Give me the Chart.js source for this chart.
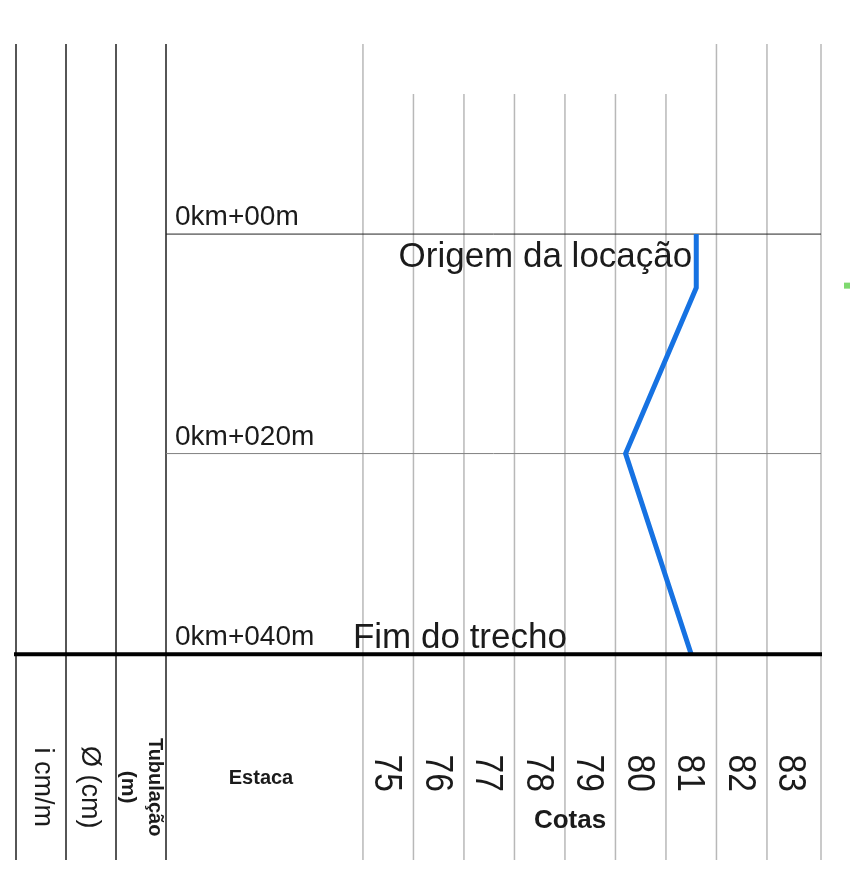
<!DOCTYPE html>
<html lang="pt-BR">
<head>
<meta charset="utf-8">
<title>Perfil - Cotas</title>
<script src="https://cdn.jsdelivr.net/npm/chart.js@4"></script>
<style>
  html, body { margin: 0; padding: 0; background: #fff; }
  canvas { display: block; }
</style>
</head>
<body>
<canvas id="perfil" width="850" height="885"></canvas>
<script>
"use strict";

// Cotas (eixo horizontal) e estacas (eixo vertical, distância em m)
const COTAS = [75, 76, 77, 78, 79, 80, 81, 82, 83];
const COTAS_ALTAS = [75, 82, 83];
const ESTACAS = ["0km+00m", "0km+020m", "0km+040m"];
const ESTACA_DIST = [0, 20.9, 40];
// Perfil do terreno
const PERFIL_DIST = [0, 5.1, 20.9, 40];
const PERFIL_COTA = [81.6, 81.6, 80.2, 81.5];
const COLUNAS = ["i cm/m", "Ø (cm)", ["Tubulação", "(m)"]];

const FONTE = '"Liberation Sans", Arial, sans-serif';
const AZUL = "#1672e2";

const perfilPlugin = {
  id: "perfil",
  beforeDatasetsDraw(chart) {
    const { ctx, chartArea: a, scales: { x, y } } = chart;
    ctx.save();
    // linhas das colunas da tabela à esquerda
    ctx.strokeStyle = "#1e1e1e";
    ctx.lineWidth = 1.5;
    for (let k = 0; k < 4; k++) {
      const px = a.left - 50 * k;
      ctx.beginPath(); ctx.moveTo(px, a.top); ctx.lineTo(px, a.bottom); ctx.stroke();
    }
    // grade vertical das cotas
    ctx.strokeStyle = "#b8b8b8";
    ctx.lineWidth = 1.5;
    COTAS.forEach((c) => {
      const px = x.getPixelForValue(c);
      const topo = COTAS_ALTAS.includes(c) ? a.top : a.top + 50;
      ctx.beginPath(); ctx.moveTo(px, topo); ctx.lineTo(px, a.bottom); ctx.stroke();
    });
    ctx.beginPath(); ctx.moveTo(a.right, a.top); ctx.lineTo(a.right, a.bottom); ctx.stroke();
    // linhas das estacas
    ESTACA_DIST.slice(0, -1).forEach((d, i) => {
      const py = y.getPixelForValue(d);
      ctx.strokeStyle = i === 0 ? "#222" : "#808080";
      ctx.lineWidth = 1;
      ctx.beginPath(); ctx.moveTo(a.left, py); ctx.lineTo(a.right, py); ctx.stroke();
    });
    ctx.restore();
  },
  afterDatasetsDraw(chart) {
    const { ctx, chartArea: a, scales: { x, y } } = chart;
    const base = y.getPixelForValue(ESTACA_DIST[ESTACA_DIST.length - 1]);
    ctx.save();
    // linha grossa de base
    ctx.strokeStyle = "#000";
    ctx.lineWidth = 4;
    ctx.beginPath(); ctx.moveTo(a.left - 152, base); ctx.lineTo(a.right + 1, base); ctx.stroke();

    ctx.fillStyle = "#1b1b1b";
    ctx.textBaseline = "alphabetic";
    ctx.textAlign = "left";
    ctx.font = "28px " + FONTE;
    ESTACAS.forEach((e, i) => {
      ctx.fillText(e, a.left + 9, y.getPixelForValue(ESTACA_DIST[i]) - 9);
    });

    ctx.font = "35px " + FONTE;
    ctx.textAlign = "right";
    ctx.fillText("Origem da locação", x.getPixelForValue(PERFIL_COTA[0]) - 4, y.getPixelForValue(ESTACA_DIST[0]) + 33);
    ctx.textAlign = "left";
    ctx.fillText("Fim do trecho", x.getPixelForValue(COTAS[0]) - 10, base - 6);

    // rótulos das cotas (girados)
    ctx.font = "39px " + FONTE;
    ctx.textAlign = "center";
    ctx.textBaseline = "middle";
    COTAS.forEach((c) => {
      ctx.save();
      ctx.translate(x.getPixelForValue(c) + 23, base + 119);
      ctx.rotate(Math.PI / 2);
      ctx.scale(0.86, 1);
      ctx.fillText(String(c), 0, 0);
      ctx.restore();
    });

    ctx.font = "bold 20px " + FONTE;
    ctx.fillText("Estaca", a.left + 95, base + 124);
    ctx.font = "bold 26px " + FONTE;
    ctx.fillText("Cotas", x.getPixelForValue(79.1), base + 167);

    // cabeçalhos das colunas à esquerda
    const centros = [42, 89, 141];
    COLUNAS.forEach((t, i) => {
      ctx.save();
      ctx.translate(centros[i], base + 133);
      ctx.rotate(Math.PI / 2);
      if (Array.isArray(t)) {
        ctx.font = "bold 20px " + FONTE;
        ctx.fillText(t[0], 0, -14);
        ctx.font = "bold 21px " + FONTE;
        ctx.fillText(t[1], 0, 13);
      } else {
        ctx.font = "27px " + FONTE;
        ctx.fillText(t, 0, 0);
      }
      ctx.restore();
    });

    // marcador verde da legenda
    ctx.fillStyle = "#7fd96f";
    ctx.fillRect(a.right + 23, y.getPixelForValue(PERFIL_DIST[1]) - 5, 7, 6);
    ctx.restore();
  },
};

new Chart(document.getElementById("perfil"), {
  type: "scatter",
  data: {
    datasets: [{
      data: PERFIL_DIST.map((d, i) => ({ x: PERFIL_COTA[i], y: d })),
      showLine: true,
      borderColor: AZUL,
      borderWidth: 5,
      borderJoinStyle: "miter",
      pointRadius: 0,
      tension: 0,
    }],
  },
  options: {
    responsive: false,
    animation: false,
    devicePixelRatio: 1,
    layout: { padding: { left: 166, top: 44, right: 29, bottom: 25 } },
    plugins: { legend: { display: false }, tooltip: { enabled: false } },
    scales: {
      x: { type: "linear", min: 71.1, max: 84.07, display: false },
      y: { type: "linear", reverse: true, min: -18.1, max: 59.6, display: false },
    },
  },
  plugins: [perfilPlugin],
});
</script>
</body>
</html>
